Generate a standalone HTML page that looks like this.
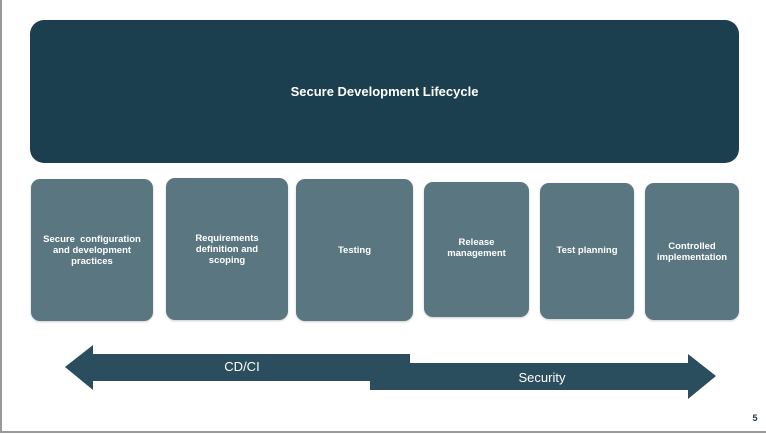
<!DOCTYPE html>
<html><head><style>
body{margin:0;width:766px;height:434px;background:#fff;position:relative;overflow:hidden;font-family:"Liberation Sans",sans-serif}
.frame{position:absolute;left:0;top:0;width:764px;height:431px;border-left:2px solid #999;border-bottom:2px solid #999}
.top{position:absolute;left:30px;top:20px;width:709px;height:143px;background:#1b3f4f;border-radius:14px;color:#fff;font-weight:bold;font-size:13px;display:flex;align-items:center;justify-content:center}
.b{position:absolute;background:#5a7680;border-radius:9px;color:#fff;font-weight:bold;font-size:9.5px;line-height:11px;text-align:center;display:flex;justify-content:center;padding-top:0;box-shadow:0 1px 2px rgba(0,0,0,.2)}
.b span{margin-top:55px}
.lbl{position:absolute;color:#fff;font-size:13px}
</style></head><body>
<div class="frame"></div>
<div class="top">Secure Development Lifecycle</div>
<div class="b" style="left:31px;top:179px;width:122px;height:142px"><span>Secure&nbsp; configuration<br>and development<br>practices</span></div>
<div class="b" style="left:166px;top:178px;width:122px;height:142px"><span>Requirements<br>definition and<br>scoping</span></div>
<div class="b" style="left:296px;top:179px;width:117px;height:142px"><span style="margin-top:66px">Testing</span></div>
<div class="b" style="left:424px;top:182px;width:105px;height:135px"><span>Release<br>management</span></div>
<div class="b" style="left:540px;top:183px;width:94px;height:136px"><span style="margin-top:62px">Test planning</span></div>
<div class="b" style="left:645px;top:183px;width:94px;height:137px"><span style="margin-top:58px">Controlled<br>implementation</span></div>
<svg style="position:absolute;left:0;top:0" width="766" height="434">
<polygon points="65,367 93,345 93,354 410,354 410,381 93,381 93,390" fill="#2a4e5d"/>
<polygon points="370,363 688,363 688,354 716,376 688,399 688,390 370,390" fill="#2a4e5d"/>
<text x="242" y="371" fill="#fff" font-size="13" text-anchor="middle" font-family="Liberation Sans">CD/CI</text>
<text x="542" y="382" fill="#fff" font-size="13" text-anchor="middle" font-family="Liberation Sans">Security</text>
<text x="755" y="421" fill="#1b3f4f" font-size="9" font-weight="bold" text-anchor="middle" font-family="Liberation Sans">5</text>
</svg>
</body></html>
